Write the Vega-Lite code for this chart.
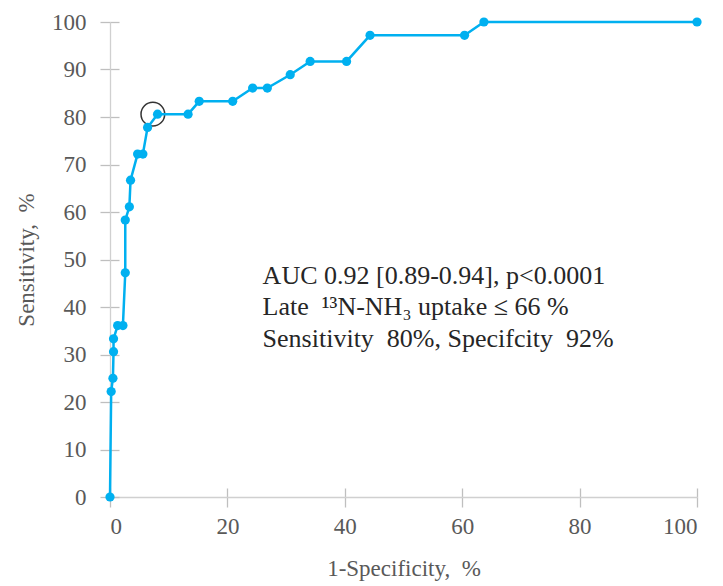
{
  "$schema": "https://vega.github.io/schema/vega-lite/v6.json",
  "width": 587,
  "height": 475,
  "autosize": "none",
  "padding": {"left": 110, "top": 22, "right": 26, "bottom": 89},
  "background": "white",
  "config": {
    "view": {"stroke": null},
    "font": "Liberation Serif",
    "axis": {
      "labelFont": "Liberation Serif",
      "labelFontSize": 23,
      "labelColor": "#595959",
      "titleFont": "Liberation Serif",
      "titleFontSize": 23,
      "titleFontWeight": "normal",
      "titleColor": "#595959",
      "domainColor": "#d0d0d0",
      "domainWidth": 1.3,
      "tickColor": "#bfbfbf",
      "tickWidth": 1.3,
      "grid": false
    }
  },
  "datasets": {
    "roc": [
      {"fpr": 0.0, "sens": 0.0},
      {"fpr": 0.2, "sens": 22.2},
      {"fpr": 0.5, "sens": 25.0},
      {"fpr": 0.6, "sens": 30.6},
      {"fpr": 0.6, "sens": 33.3},
      {"fpr": 1.3, "sens": 36.1},
      {"fpr": 2.2, "sens": 36.1},
      {"fpr": 2.6, "sens": 47.2},
      {"fpr": 2.6, "sens": 58.3},
      {"fpr": 3.3, "sens": 61.1},
      {"fpr": 3.5, "sens": 66.7},
      {"fpr": 4.7, "sens": 72.2},
      {"fpr": 5.6, "sens": 72.2},
      {"fpr": 6.4, "sens": 77.8},
      {"fpr": 8.1, "sens": 80.6},
      {"fpr": 13.3, "sens": 80.6},
      {"fpr": 15.2, "sens": 83.3},
      {"fpr": 20.9, "sens": 83.3},
      {"fpr": 24.3, "sens": 86.1},
      {"fpr": 26.8, "sens": 86.1},
      {"fpr": 30.7, "sens": 88.9},
      {"fpr": 34.1, "sens": 91.7},
      {"fpr": 40.3, "sens": 91.7},
      {"fpr": 44.3, "sens": 97.2},
      {"fpr": 60.4, "sens": 97.2},
      {"fpr": 63.7, "sens": 100.0},
      {"fpr": 100.0, "sens": 100.0}
    ],
    "cut": [{"fpr": 7.3, "sens": 80.6}],
    "note": [
      {"fpr": 26.0, "sens": 46.6, "label": "AUC 0.92 [0.89-0.94], p<0.0001"},
      {"fpr": 26.0, "sens": 40.0, "label": "Late \u00a0¹³N-NH₃ uptake ≤ 66 %"},
      {"fpr": 26.0, "sens": 33.3, "label": "Sensitivity \u00a080%, Specifcity \u00a092%"}
    ]
  },
  "layer": [
    {
      "data": {"name": "cut"},
      "mark": {"type": "point", "shape": "circle", "filled": false, "size": 560, "stroke": "#333333", "strokeWidth": 1.5, "opacity": 1},
      "encoding": {
        "x": {
          "field": "fpr",
          "type": "quantitative",
          "axis": {
            "orient": "bottom",
            "values": [0, 20, 40, 60, 80, 100],
            "tickSize": 9,
            "offset": -9,
            "labels": false,
            "domain": false,
            "title": null
          }
        },
        "y": {
          "field": "sens",
          "type": "quantitative",
          "axis": {
            "orient": "left",
            "values": [0, 10, 20, 30, 40, 50, 60, 70, 80, 90, 100],
            "tickSize": 9,
            "offset": -9,
            "labels": false,
            "domain": false,
            "title": null
          }
        }
      }
    },
    {
      "data": {"name": "roc"},
      "mark": {
        "type": "line",
        "color": "#00b0f0",
        "strokeWidth": 2.5,
        "clip": false,
        "point": {"filled": true, "size": 85, "color": "#00b0f0", "opacity": 1}
      },
      "encoding": {
        "x": {
          "field": "fpr",
          "type": "quantitative",
          "scale": {"domain": [0, 100], "nice": false, "zero": true},
          "axis": {
            "orient": "bottom",
            "values": [0, 20, 40, 60, 80, 100],
            "tickSize": 10,
            "labelPadding": 8,
            "title": "1-Specificity,\u00a0 %",
            "titlePadding": 19
          }
        },
        "y": {
          "field": "sens",
          "type": "quantitative",
          "scale": {"domain": [0, 100], "nice": false},
          "axis": {
            "orient": "left",
            "values": [0, 10, 20, 30, 40, 50, 60, 70, 80, 90, 100],
            "tickSize": 10,
            "labelPadding": 14,
            "title": "Sensitivity,\u00a0 %",
            "titlePadding": 13
          }
        }
      }
    },
    {
      "data": {"name": "note"},
      "mark": {"type": "text", "align": "left", "baseline": "middle", "font": "Liberation Serif", "fontSize": 26, "color": "#262626"},
      "encoding": {
        "x": {"field": "fpr", "type": "quantitative", "axis": null},
        "y": {"field": "sens", "type": "quantitative", "axis": null},
        "text": {"field": "label"}
      }
    }
  ],
  "resolve": {"axis": {"x": "independent", "y": "independent"}}
}
